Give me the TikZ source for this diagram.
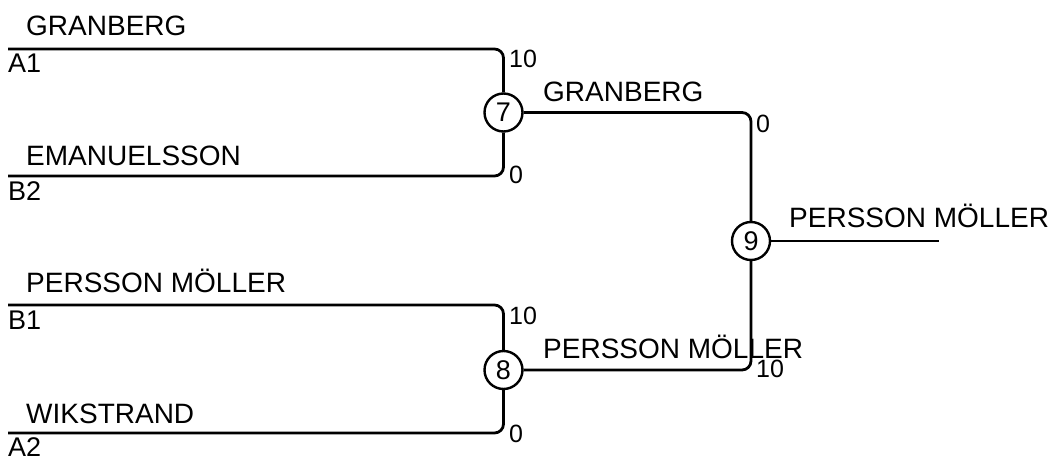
\documentclass[tikz,border=0pt]{standalone}
\usepackage{fontspec}
\setmainfont{Liberation Sans}
\begin{document}
\begin{tikzpicture}[x=1pt,y=-1pt,
  wire/.style={line width=2.8pt,rounded corners=9pt},
  gamenode/.style={circle,draw,line width=2.4pt,minimum size=38pt,inner sep=0pt,font=\fontsize{27}{29}\selectfont},
  playername/.style={anchor=base west,inner sep=0pt,font=\fontsize{28}{30}\selectfont},
  slotlabel/.style={anchor=base west,inner sep=0pt,font=\fontsize{27}{29}\selectfont},
  scorelabel/.style={anchor=base west,inner sep=0pt,font=\fontsize{25}{27}\selectfont}]
\useasboundingbox (0,0) rectangle (1055,460);
% match nodes
\node[gamenode] (m7) at (503.5,112.5) {7};
\node[gamenode] (m8) at (503.5,370) {8};
\node[gamenode] (m9) at (751,241) {9};
% start coordinates
\coordinate (a1) at (8,49);
\coordinate (b2) at (8,176);
\coordinate (b1) at (8,305);
\coordinate (a2) at (8,433);
\coordinate (win) at (939,241);
% connectors
\draw[wire] (a1) -| (m7);
\draw[wire] (b2) -| (m7);
\draw[wire] (b1) -| (m8);
\draw[wire] (a2) -| (m8);
\draw[wire] (m7) -| (m9);
\draw[wire] (m8) -| (m9);
\draw[wire] (m9) -- (win);
% names
\node[playername] (n1) at (26,36) {GRANBERG};
\node[playername] (n2) at (26,165) {EMANUELSSON};
\node[playername] (n3) at (26,292) {PERSSON MÖLLER};
\node[playername] (n4) at (26,423) {WIKSTRAND};
\node[playername] (n5) at (543,101) {GRANBERG};
\node[playername] (n6) at (543,358) {PERSSON MÖLLER};
\node[playername] (n7) at (789,227) {PERSSON MÖLLER};
% slots
\node[slotlabel] (s1) at (8,73) {A1};
\node[slotlabel] (s2) at (8,200) {B2};
\node[slotlabel] (s3) at (8,329) {B1};
\node[slotlabel] (s4) at (8,456) {A2};
% scores
\node[scorelabel] (p1) at (509,67) {10};
\node[scorelabel] (p2) at (509,183) {0};
\node[scorelabel] (p3) at (509,324) {10};
\node[scorelabel] (p4) at (509,442) {0};
\node[scorelabel] (p5) at (756,132) {0};
\node[scorelabel] (p6) at (756,377) {10};
\end{tikzpicture}
\end{document}
